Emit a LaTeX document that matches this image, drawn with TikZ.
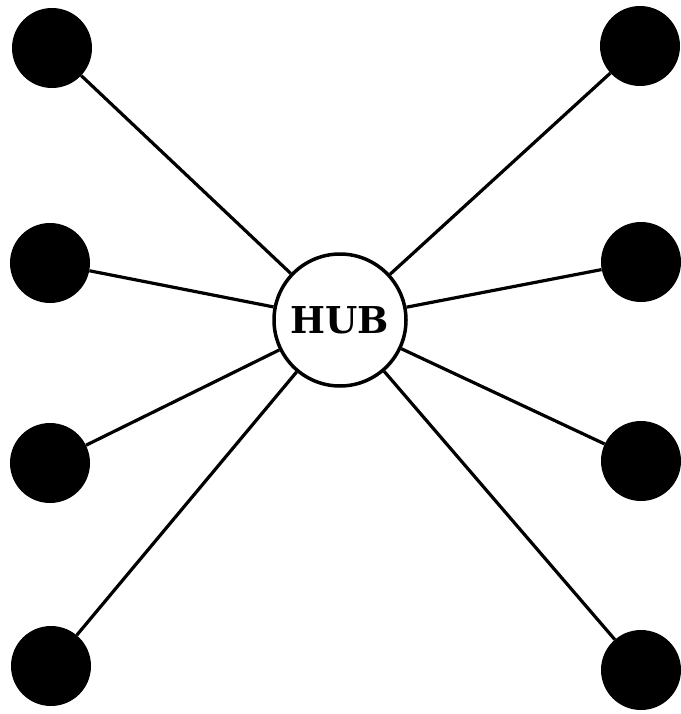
\documentclass[tikz,border=0pt]{standalone}
\usepackage{fontspec}
\newfontfamily\hubfont{DejaVu Serif}
\tikzset{
  station/.style={circle, fill=black, minimum size=80pt, inner sep=0pt},
  hubnode/.style={circle, draw, line width=3.5pt, minimum size=132pt, inner sep=0pt, fill=white,
    font=\hubfont\bfseries\fontsize{37}{37}\selectfont},
  link/.style={line width=3.2pt}
}
\begin{document}
\begin{tikzpicture}[x=1pt, y=-1pt]
  % star topology around a hub
  \useasboundingbox (0,0) rectangle (680,714);
  \node[hubnode] (hub) at (340,320) {HUB};
  \node[station] (l1) at (52,48) {};
  \node[station] (l2) at (50,263) {};
  \node[station] (l3) at (50,463) {};
  \node[station] (l4) at (51,666) {};
  \node[station] (r1) at (640,46) {};
  \node[station] (r2) at (641,262) {};
  \node[station] (r3) at (641,461) {};
  \node[station] (r4) at (641,670) {};
  \foreach \s in {l1,l2,l3,l4,r1,r2,r3,r4}
    \draw[link] (hub) -- (\s);
\end{tikzpicture}
\end{document}
